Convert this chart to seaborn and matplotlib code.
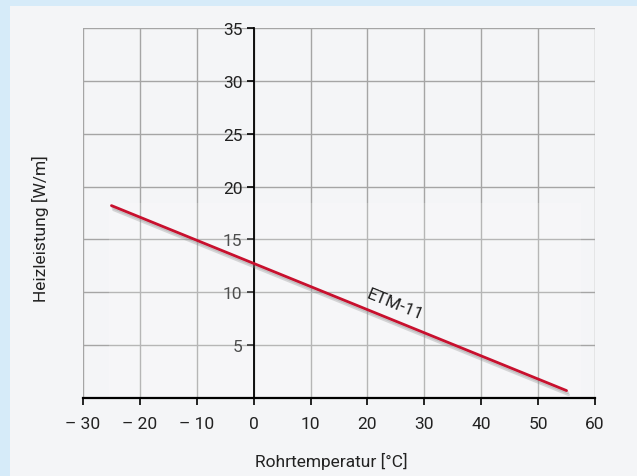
import matplotlib
matplotlib.use("Agg")
import matplotlib.pyplot as plt
import matplotlib.patheffects as pe
from matplotlib.patches import Rectangle
import pandas as pd
import seaborn as sns

# Daten: Heizleistung ETM-11 über Rohrtemperatur
temperatur = [-25, 55]
heizleistung = [18.2, 0.7]
x_ticks = [-30, -20, -10, 0, 10, 20, 30, 40, 50, 60]
x_labels = ["– 30", "– 20", "– 10", "0", "10", "20", "30", "40", "50", "60"]
y_ticks = [5, 10, 15, 20, 25, 30, 35]
kurve = "ETM-11"

df = pd.DataFrame({"Rohrtemperatur": temperatur, "Heizleistung": heizleistung})

sns.set_theme(style="white")
plt.rcParams["font.family"] = ["Roboto", "DejaVu Sans"]

fig = plt.figure(figsize=(6.37, 4.77), dpi=100, facecolor="#d6ebf9")
# heller Innenbereich
fig.patches.append(Rectangle((10 / 637, 0), 1, 1 - 7 / 477, transform=fig.transFigure,
                             facecolor="#f4f5f7", edgecolor="none", zorder=-5))

ax = fig.add_axes([83 / 637, 78 / 477, 512 / 637, 370 / 477])
ax.set_zorder(2)
ax.patch.set_alpha(0)

ax.set_xlim(-30, 60)
ax.set_ylim(0, 35)

# Gitter von Hand, damit es unter dem Schattenbereich liegt
for xv in x_ticks:
    ax.axvline(xv, color="#a5a5a5", lw=1.0, zorder=0.5)
for yv in y_ticks:
    ax.axhline(yv, color="#a5a5a5", lw=1.0, zorder=0.5)

# leichter Schatten-Hintergrund hinter der Kurve
ax.add_patch(Rectangle((-25.5, 0), 83, 18.4, facecolor="white", alpha=0.2,
                       edgecolor="none", zorder=1))

sns.lineplot(data=df, x="Rohrtemperatur", y="Heizleistung", ax=ax, color="#c8102e",
             lw=2.0, zorder=4,
             path_effects=[pe.SimpleLineShadow(offset=(1.5, -3), shadow_color="#888888", alpha=0.3),
                           pe.SimpleLineShadow(offset=(1, -1.5), shadow_color="#888888", alpha=0.3),
                           pe.Normal()])

ax.text(24.8, 8.9, kurve, rotation=-22, ha="center", va="center", fontsize=12.5,
        color="#222222", zorder=5)

for s in ["top", "right"]:
    ax.spines[s].set_visible(False)
ax.spines["left"].set_position(("data", 0))
ax.spines["left"].set_color("black")
ax.spines["left"].set_linewidth(1.3)
ax.spines["bottom"].set_color("black")
ax.spines["bottom"].set_linewidth(1.6)

ax.set_xticks(x_ticks)
ax.set_xticklabels(x_labels)
ax.set_yticks(y_ticks)
ax.tick_params(axis="both", direction="out", length=5, width=1.2, color="black",
               labelsize=12.5, labelcolor="#222222", bottom=True, left=True)
ax.tick_params(axis="x", pad=8)
ax.tick_params(axis="y", pad=3)

ax.set_xlabel("")
ax.set_ylabel("")
fig.text(331 / 637, 1 - 461 / 477, "Rohrtemperatur [°C]", ha="center", va="center",
         fontsize=12.5, color="#222222")
fig.text(40 / 637, 1 - 229 / 477, "Heizleistung [W/m]", ha="center", va="center",
         rotation=90, fontsize=12.5, color="#222222")

fig.savefig("out.png", dpi=100, facecolor=fig.get_facecolor())
